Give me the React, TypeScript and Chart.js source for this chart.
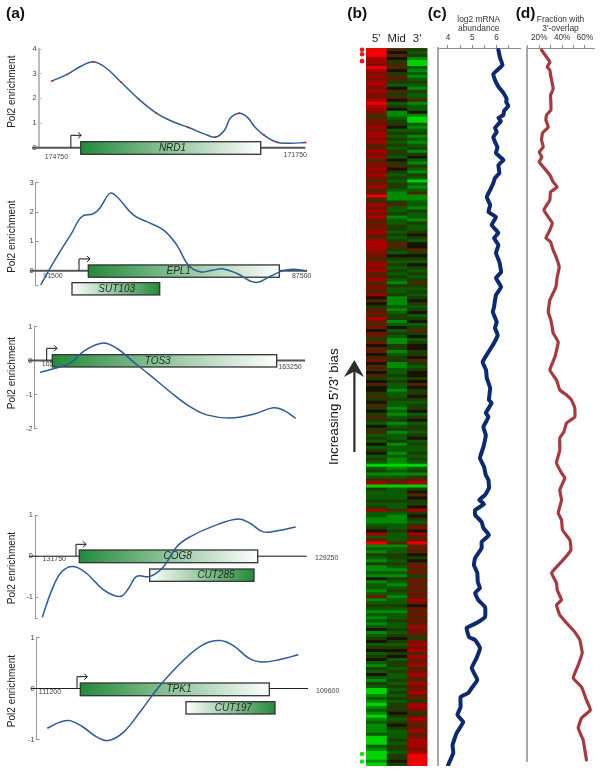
import React, { useEffect, useRef } from "react";
import { Chart, registerables } from "chart.js";

Chart.register(...registerables);
Chart.defaults.font.family = "'Liberation Sans', Arial, sans-serif";

// ---------- (a) Pol2 tracks: position along track, enrichment ----------
const nrd1Pos = [52, 68, 82, 94, 107, 122, 140, 158, 173, 190, 207, 218, 227, 233, 242, 250, 258, 267, 280, 293, 309];
const nrd1Val = [2.7, 2.98, 3.31, 3.48, 3.23, 2.66, 1.97, 1.4, 1.08, 0.83, 0.55, 0.43, 0.71, 1.2, 1.4, 1.24, 0.83, 0.51, 0.22, 0.18, 0.21];
const nrd1MarkPos = [52, 68, 94, 122, 158, 190, 218, 242, 267, 280, 309];
const nrd1MarkVal = [2.7, 2.98, 3.48, 2.66, 1.4, 0.83, 0.43, 1.4, 0.51, 0.22, 0.21];

const epl1Pos = [40.7, 50, 60, 71.7, 81.7, 93.3, 100, 110, 116.7, 133.3, 146.7, 163.3, 176.7, 188.3, 200, 213, 223, 236.7, 255, 270, 283, 293, 306.7];
const epl1Val = [-0.49, 0.08, 0.65, 1.28, 1.84, 1.94, 2.14, 2.64, 2.53, 1.9, 1.67, 1.39, 0.88, 0.19, -0.04, 0.02, 0.06, -0.09, -0.4, -0.2, 0, 0.05, -0.02];

const tos3Pos = [40, 55, 70, 83.3, 101.7, 116.7, 133.3, 150, 170, 190, 206.7, 230, 253.3, 273.3, 283.3, 295.7];
const tos3Val = [-0.35, -0.23, -0.08, 0.26, 0.51, 0.36, -0.04, -0.43, -0.92, -1.36, -1.6, -1.69, -1.58, -1.39, -1.46, -1.7];

const cog8Pos = [42.3, 51.7, 61.7, 73.3, 86.7, 103.3, 120, 128.3, 136.7, 150, 163.3, 176.7, 190, 213.3, 238.3, 250, 263.3, 280, 295.7];
const cog8Val = [-1.48, -0.83, -0.38, -0.25, -0.42, -0.81, -0.98, -0.79, -0.49, -0.49, -0.26, 0.23, 0.47, 0.73, 0.9, 0.8, 0.59, 0.63, 0.71];

const tpk1Pos = [47.3, 60, 70, 83.3, 96.7, 108.3, 123.3, 140, 160, 183.3, 203.3, 220, 233.3, 250, 263.3, 280, 298.3];
const tpk1Val = [-0.78, -0.66, -0.63, -0.76, -0.95, -1.02, -0.86, -0.46, 0.06, 0.55, 0.86, 0.94, 0.84, 0.58, 0.52, 0.57, 0.66];

// ---------- (b) heat map, one value per gene row (+ red, - green) ----------
const columnLabels = ["5'", "Mid", "3'"];
const fivePrime = [
  4,4,4,3,3,2,4,3,2,3, 2,3,3,2,3,2,2,3,4,3, 3,2,1,1,2,2,3,2,3,3, 2,3,1,2,3,2,3,1,2,2,
  3,2,3,2,1,2,3,1,2,4, 1,1,3,2,3,2,3,2,1,2, 2,3,2,1,3,3,3,3,2,2, 1,2,3,2,3,1,2,3,1,2,
  2,1,3,0,1,0,-1,1,2,1, 3,2,1,2,0,2,1,-1,2,0, 1,2,0,1,2,0,1,1,0,1, -1,0,1,0,0,-1,1,-1,0,1,
  -1,0,-1,1,-1,-2,0,-1,1,-2, -1,-2,0,-2,-1,0,-2,-1,-2,-4, -2,-1,-3,-2,1,3,-4,-1,-2,-2, -2,-1,-2,-1,3,-2,-2,-3,-3,-2,
  -1,0,3,-2,2,4,-3,-2,-3,-1, -2,-3,-1,-3,-3,-2,-3,0,-3,-2, -2,-3,-2,2,-3,-2,-1,-2,-3,-2, -3,-2,-3,-2,0,-3,-2,-1,0,-2,
  -1,0,-2,-1,0,-2,-3,-1,-2,0, -2,-3,-1,-2,-4,-4,-3,-2,-3,-4, -3,-2,-3,-4,-3,-2,-3,-3,-3,-2, -4,-4,-4,-2,-3,-4,-4,-4,-3,-4,
];
const midBody = [
  1,0,1,0,-1,1,1,0,-1,1, 1,-1,-2,0,1,-1,1,0,-2,-1, 0,-3,-3,-2,-1,-1,0,-2,-1,-2, -1,-2,-1,-2,-1,-1,-2,0,-1,1,
  0,-1,-2,-1,-2,-1,-1,-2,-3,-3, -3,-1,1,-2,-2,-1,-3,-2,-2,-1, -1,-2,-1,-2,-1,1,1,-1,-2,0, -1,-2,-1,-2,-1,-2,-1,-2,-3,-1,
  -2,-2,-1,-3,-3,-3,-2,-3,-2,-1, -1,-3,-2,0,-2,-1,-2,-3,-3,-1, -1,-3,-2,-1,-1,-3,-3,-2,-2,-1, -2,-1,-2,-2,-3,-2,-2,-1,-2,-2,
  -3,-2,-3,-2,-1,-3,-2,-1,-3,-2, -2,-1,-3,-2,-2,-3,-2,-3,-3,-4, -3,-2,-3,-2,1,2,-4,-2,-2,-2, -2,-1,-2,-2,1,-2,-3,-3,-3,-2,
  -2,-1,-2,-2,-2,1,-3,-2,-2,-1, -1,-2,-1,-2,-3,-2,-3,-1,-2,-3, -2,-1,-2,-3,-2,-2,-1,-2,-3,-2, -2,-1,-2,-2,-1,-2,-1,0,-1,-2,
  -1,0,-1,0,-2,-1,-1,-2,-1,-2, -2,-1,-2,-1,-2,-1,-2,-1,-2,-1, -1,-1,0,-1,-2,-1,0,-1,-2,-2, -2,-1,-2,-1,-1,-2,-1,-1,0,-1,
];
const threePrime = [
  -1,-2,-1,-3,-4,-4,-2,-3,-2,-3, -2,-1,-2,-3,-1,-2,-2,1,-3,-2, -2,0,-3,-4,-4,-2,-3,-2,-1,-3, -2,-3,-2,-1,-3,-1,0,-2,-3,-1,
  -2,-3,-1,-2,-4,-2,-3,-2,1,-3, -3,-2,-2,-3,-1,-2,-2,-3,-1,-2, -2,-1,0,-1,-2,0,0,1,-1,0, -1,-2,0,-1,-2,-1,-2,-1,1,-1,
  -2,-1,-2,-1,0,-1,-2,-1,0,-2, -1,0,-2,-1,1,-1,0,-2,-1,0, 0,-1,-1,0,1,-1,-2,-1,0,0, -1,0,1,0,-1,-1,0,-1,-2,-1,
  -1,0,-2,-1,0,-2,-1,-1,-2,-1, 0,-2,-1,-2,-2,-1,-2,-1,-2,-4, -2,-1,-3,-1,2,3,-4,-1,0,1, 0,-1,-1,0,3,-1,0,-1,-2,1,
  2,0,3,1,2,4,1,2,1,0, -1,0,1,2,1,2,-1,1,2,1, 2,1,2,1,3,2,0,2,1,2, 1,2,1,3,2,2,1,-1,2,3,
  2,3,1,3,2,2,3,1,2,3, 2,1,3,2,2,3,2,1,-1,3, 3,2,-1,2,3,2,1,2,3,1, 2,3,3,3,2,3,4,4,4,4,
];
const redMarkedRows = [0, 1.5, 3.8];
const greenMarkedRows = [235.5, 238];

// ---------- (c) log2 mRNA abundance ----------
const abundanceRank = [
  2,10,17,22,26,32,37,40,45,51,54,58,63,67,70,73,80,84,89,94,99,105,109,112,117,125,130,135,142,149,
  157,164,169,177,185,190,197,205,214,224,230,239,247,259,264,274,280,287,295,304,314,322,330,340,352,
  355,365,369,379,387,399,410,419,427,432,440,447,452,456,462,467,474,480,487,494,500,510,517,525,534,540,
  545,552,559,569,575,580,589,592,600,610,620,632,640,645,649,659,667,674,685,697,705,717,
];
const abundanceLog2 = [
  6.08,6.15,6.25,6.04,5.87,5.94,6.04,6.12,6.29,6.42,6.4,6.49,6.31,6.29,6.08,6.18,5.94,6.01,5.87,5.94,6.04,5.98,6.15,6.29,6.08,6.12,5.94,5.87,5.74,5.6,
  5.74,5.67,5.98,5.8,6.08,5.9,6.08,5.98,6.12,6.19,5.98,6.19,5.98,5.9,5.85,6.01,5.94,6.05,5.9,5.67,5.43,5.57,5.6,5.74,5.69,
  5.8,5.56,5.67,5.46,5.56,5.46,5.32,5.49,5.56,5.67,5.69,5.53,5.29,5.49,5.12,5.12,5.39,5.46,5.69,5.39,5.39,5.12,5.07,5.21,5.23,5.32,
  5.12,5.25,5.53,5.53,5.18,4.77,4.87,5.12,5.32,5.18,4.98,5.21,4.98,4.84,4.52,4.52,4.39,4.63,4.36,4.19,4.22,4.01,
];
const abundanceTicks = [4, 4.5, 5, 5.5, 6, 6.5];

// ---------- (d) fraction with 3'-overlap ----------
const overlapRank = [
  2,9,14,19,22,27,32,41,47,55,62,67,72,79,85,92,99,104,109,114,119,127,134,139,144,152,
  162,169,175,182,190,194,202,210,219,229,239,252,264,272,285,294,309,322,332,342,347,352,
  360,369,375,384,390,402,415,425,430,442,452,465,472,482,492,502,510,519,525,535,542,
  552,557,567,575,584,592,605,617,630,639,652,662,670,680,692,702,712,
];
const overlapPercent = [
  22,26.4,29.3,27,29.3,29.9,30.8,32.2,29.9,30.2,30.2,26.4,25.8,27.9,22.9,22,23.5,20,22.3,20,23.5,29.3,32.2,35.7,29.9,29.3,
  24.1,27.9,31.4,29.3,25.8,29.9,32.2,35.1,37.5,35.7,34.6,29.3,27.9,30.2,32.2,36.6,33.7,29.3,35.1,38,43.9,48.2,
  51.1,51.1,43.9,41.5,38,38,35.1,39.5,42.4,38,39.5,36.6,39.5,40.4,46.8,47.7,42.4,35.1,30.8,35.1,35.7,
  39.5,35.1,38,43.9,51.1,55.5,57.6,54.1,49.7,57,61.3,64.8,57,54.1,58.4,59.9,61.3,
];
const overlapTicks = [10, 20, 30, 40, 50, 60];

// ---------- track layout ----------
const tracks = [
  { key: "NRD1", top: 0, height: 170, axisX: 38.7, axisTop: 49, axisBottom: 147.7, min: 0, max: 4, tickVals: [0, 1, 2, 3, 4],
    axisColor: "#bdbdbd", axisWidth: 2, lineColor: "#555", lineWidth: 2, baseFrom: 32, baseTo: 309,
    pos: nrd1Pos, val: nrd1Val, markPos: nrd1MarkPos, markVal: nrd1MarkVal, titleY: 91.7,
    genes: [{ name: "NRD1", start: 81.3, end: 263.7, dyTop: -6, dyBottom: 6.6, labelX: 174.3, flip: false }],
    tss: { x: 71.3, dy: -12.4, end: 81.7 },
    coords: [{ text: "174750", x: 56.7, dy: 9.5 }, { text: "171750", x: 298.7, dy: 7 }],
    extraText: { text: "(a)", x: 6, y: 13.5 } },
  { key: "EPL1", top: 170, height: 135, axisX: 35.7, axisTop: 182.7, axisBottom: 285.3, min: -0.5, max: 3, tickVals: [-0.5, 0, 1, 2, 3],
    axisColor: "#999", axisWidth: 1, lineColor: "#555", lineWidth: 2, baseFrom: 30, baseTo: 307,
    pos: epl1Pos, val: epl1Val, titleY: 236.7,
    genes: [
      { name: "EPL1", start: 88.3, end: 279.3, dyTop: -5.7, dyBottom: 6.6, labelX: 178.7, flip: false },
      { name: "SUT103", start: 72, end: 159.7, dyTop: 12, dyBottom: 24.3, labelX: 116.7, flip: true },
    ],
    tss: { x: 79, dy: -11.7, end: 90 },
    coords: [{ text: "91500", x: 53, dy: 5.5 }, { text: "87500", x: 301.7, dy: 5.5 }] },
  { key: "TOS3", top: 310, height: 130, axisX: 34.3, axisTop: 326.5, axisBottom: 428.5, min: -2, max: 1, tickVals: [-2, -1, 0, 1],
    axisColor: "#999", axisWidth: 1, lineColor: "#555", lineWidth: 2, baseFrom: 28, baseTo: 305,
    pos: tos3Pos, val: tos3Val, titleY: 373,
    genes: [{ name: "TOS3", start: 52.3, end: 276.7, dyTop: -5.8, dyBottom: 6.5, labelX: 157.7, flip: false }],
    tss: { x: 46.7, dy: -12.2, end: 57 },
    coords: [{ text: "165250", x: 53.5, dy: 4 }, { text: "163250", x: 290, dy: 6.2 }] },
  { key: "COG8", top: 500, height: 125, axisX: 35, axisTop: 515, axisBottom: 618, min: -1.5, max: 1, tickVals: [-1.5, -1, 0, 1],
    axisColor: "#999", axisWidth: 1, lineColor: "#111", lineWidth: 1, baseFrom: 29, baseTo: 306.7,
    pos: cog8Pos, val: cog8Val, titleY: 568,
    genes: [
      { name: "COG8", start: 79.3, end: 257.7, dyTop: -6.2, dyBottom: 6.5, labelX: 177.7, flip: false },
      { name: "CUT285", start: 149.7, end: 254, dyTop: 12.8, dyBottom: 25.1, labelX: 216, flip: true },
    ],
    tss: { x: 76, dy: -11.9, end: 86 },
    coords: [{ text: "131750", x: 54.3, dy: 3.2 }, { text: "129250", x: 326.7, dy: 1.8 }] },
  { key: "TPK1", top: 625, height: 125, axisX: 36.7, axisTop: 637.5, axisBottom: 739.5, min: -1, max: 1, tickVals: [-1, 0, 1],
    axisColor: "#999", axisWidth: 1, lineColor: "#222", lineWidth: 1, baseFrom: 30.7, baseTo: 308,
    pos: tpk1Pos, val: tpk1Val, titleY: 691,
    genes: [
      { name: "TPK1", start: 80.3, end: 269.3, dyTop: -5.5, dyBottom: 7.2, labelX: 179, flip: false },
      { name: "CUT197", start: 186, end: 275, dyTop: 13.2, dyBottom: 25.5, labelX: 233.3, flip: true },
    ],
    tss: { x: 77, dy: -11.8, end: 87.3 },
    coords: [{ text: "111200", x: 50, dy: 3.8 }, { text: "109600", x: 327.7, dy: 2.5 }] },
];

const trackCurve = "#2c5b98";
const heatPalette = {
  "-4": "#00d400", "-3": "#028a00", "-2": "#0a5c00", "-1": "#1c3c00", "0": "#1a1200",
  "1": "#4c2600", "2": "#741200", "3": "#a80000", "4": "#f00000",
} as Record<string, string>;
const heatColors = (vals: number[]) => vals.map((v) => heatPalette[String(v)]);

// ---------- plugins ----------
const label = (ctx: any, text: string, x: number, y: number, font: string, color: string, align: any = "center") => {
  ctx.save();
  ctx.font = font;
  ctx.fillStyle = color;
  ctx.textAlign = align;
  ctx.textBaseline = "middle";
  ctx.fillText(text, x, y);
  ctx.restore();
};

const trackPlugin = (t: any) => ({
  id: "track" + t.key,
  afterDatasetDraw(chart: any, args: any) {
    if (chart.data.datasets[args.index].role !== "baseline") return;
    const { ctx, scales } = chart;
    const xs = scales.x;
    const zero = scales.y.getPixelForValue(0);
    for (const c of t.coords) {
      label(ctx, c.text, xs.getPixelForValue(c.x), zero + c.dy, "7px 'Liberation Sans'", "#444");
    }
    // TSS arrow
    const tx = xs.getPixelForValue(t.tss.x);
    const te = xs.getPixelForValue(t.tss.end);
    const ty = zero + t.tss.dy;
    ctx.save();
    ctx.strokeStyle = "#111";
    ctx.lineWidth = 1;
    ctx.beginPath();
    ctx.moveTo(tx, zero);
    ctx.lineTo(tx, ty);
    ctx.lineTo(te, ty);
    ctx.moveTo(te - 3, ty - 3);
    ctx.lineTo(te, ty);
    ctx.lineTo(te - 3, ty + 3);
    ctx.stroke();
    ctx.restore();
    for (const g of t.genes) {
      const x1 = xs.getPixelForValue(g.start);
      const x2 = xs.getPixelForValue(g.end);
      const grad = ctx.createLinearGradient(x1, 0, x2, 0);
      grad.addColorStop(g.flip ? 1 : 0, "#238a3a");
      grad.addColorStop(g.flip ? 0 : 1, "#ffffff");
      ctx.save();
      ctx.fillStyle = grad;
      ctx.strokeStyle = "#333";
      ctx.lineWidth = 1.3;
      ctx.fillRect(x1, zero + g.dyTop, x2 - x1, g.dyBottom - g.dyTop);
      ctx.strokeRect(x1, zero + g.dyTop, x2 - x1, g.dyBottom - g.dyTop);
      ctx.restore();
      label(ctx, g.name, xs.getPixelForValue(g.labelX), zero + (g.dyTop + g.dyBottom) / 2, "italic 10px 'Liberation Sans'", "#1c2a20");
    }
  },
  afterDraw(chart: any) {
    const { ctx } = chart;
    ctx.save();
    ctx.translate(12.7, t.titleY - t.top);
    ctx.rotate(-Math.PI / 2);
    label(ctx, "Pol2 enrichment", 0, 0, "10px 'Liberation Sans'", "#222");
    ctx.restore();
    if (t.extraText) {
      label(ctx, t.extraText.text, t.extraText.x, t.extraText.y, "bold 15.5px 'Liberation Sans'", "#111", "left");
    }
  },
});

const fixedAxis = (size: number, vertical: boolean) => (s: any) => {
  if (vertical) s.width = size;
  else s.height = size;
  s.paddingTop = 0;
  s.paddingBottom = 0;
  s.paddingLeft = 0;
  s.paddingRight = 0;
};

const trackConfig = (t: any) => {
  const datasets: any[] = [];
  if (t.markPos) {
    datasets.push({
      data: t.markPos.map((x: number, i: number) => ({ x, y: t.markVal[i] })),
      showLine: false, pointRadius: 1, pointBackgroundColor: "#f01818", pointBorderWidth: 0, clip: false,
    });
  }
  datasets.push({
    data: t.pos.map((x: number, i: number) => ({ x, y: t.val[i] })),
    borderColor: trackCurve, borderWidth: 1.5, pointRadius: 0, tension: 0.4, clip: false,
  });
  datasets.push({
    role: "baseline",
    data: [{ x: t.baseFrom, y: 0 }, { x: t.baseTo, y: 0 }],
    borderColor: t.lineColor, borderWidth: t.lineWidth, pointRadius: 0, clip: false,
  });
  return {
    type: "line",
    data: { datasets },
    plugins: [trackPlugin(t)],
    options: {
      animation: false, responsive: false, devicePixelRatio: 1,
      layout: { padding: { top: t.axisTop - t.top, bottom: t.top + t.height - t.axisBottom, left: 0, right: 0 } },
      plugins: { legend: { display: false }, tooltip: { enabled: false }, title: { display: false } },
      scales: {
        x: { type: "linear", min: t.axisX, max: 340, display: false },
        y: {
          type: "linear", min: t.min, max: t.max,
          afterBuildTicks: (s: any) => { s.ticks = t.tickVals.map((value: number) => ({ value })); },
          afterFit: fixedAxis(t.axisX, true),
          border: { display: true, color: t.axisColor, width: t.axisWidth },
          grid: { drawOnChartArea: false, drawTicks: true, tickLength: -3, color: t.axisColor, lineWidth: 1 },
          ticks: {
            autoSkip: false, padding: 5, color: "#444", font: { size: 7.5 },
            callback: (v: number) => (Number.isInteger(v) ? String(v) : ""),
          },
        },
      },
    },
  };
};

const heatPlugin = {
  id: "heatExtras",
  beforeDatasetsDraw(chart: any) {
    const { ctx, chartArea: a } = chart;
    ctx.save();
    ctx.fillStyle = "#140f00";
    ctx.fillRect(a.left, a.top, a.right - a.left, a.bottom - a.top);
    ctx.restore();
  },
  afterDraw(chart: any) {
    const { ctx, scales } = chart;
    const dot = (row: number, color: string) => {
      ctx.save();
      ctx.fillStyle = color;
      ctx.beginPath();
      ctx.arc(scales.x.getPixelForValue(-0.195), scales.y.getPixelForValue(row), 2.3, 0, Math.PI * 2);
      ctx.fill();
      ctx.restore();
    };
    redMarkedRows.forEach((r) => dot(r, "#f01414"));
    greenMarkedRows.forEach((r) => dot(r, "#14e614"));
    label(ctx, "(b)", 27.3, 13.5, "bold 15.5px 'Liberation Sans'", "#111", "left");
    // bias arrow
    ctx.save();
    ctx.fillStyle = "#2d2d2d";
    ctx.fillRect(33.3, 370, 2.2, 82);
    ctx.beginPath();
    ctx.moveTo(34.4, 360);
    ctx.lineTo(44, 377);
    ctx.lineTo(34.4, 371.5);
    ctx.lineTo(24, 377);
    ctx.closePath();
    ctx.fill();
    ctx.translate(14.3, 406.7);
    ctx.rotate(-Math.PI / 2);
    label(ctx, "Increasing 5'/3' bias", 0, 0, "13.3px 'Liberation Sans'", "#111");
    ctx.restore();
  },
};

const heatConfig = () => ({
  type: "bar",
  data: {
    labels: fivePrime.map((_, i) => i),
    datasets: [fivePrime, midBody, threePrime].map((vals) => ({
      data: vals.map(() => 1),
      backgroundColor: heatColors(vals),
      borderWidth: 0,
      barPercentage: 1,
      categoryPercentage: 1,
    })),
  },
  plugins: [heatPlugin],
  options: {
    indexAxis: "y",
    animation: false, responsive: false, devicePixelRatio: 1,
    layout: { padding: { left: 46, right: 0.7, top: 0, bottom: 0 } },
    plugins: { legend: { display: false }, tooltip: { enabled: false } },
    scales: {
      x: {
        type: "linear", position: "top", stacked: true, min: 0, max: 3,
        afterBuildTicks: (s: any) => { s.ticks = [0.5, 1.5, 2.5].map((value) => ({ value })); },
        afterFit: fixedAxis(48.3, false),
        border: { display: false },
        grid: { display: false, drawTicks: false },
        ticks: {
          autoSkip: false, maxRotation: 0, padding: 3, color: "#222", font: { size: 11.3 },
          callback: (v: number) => columnLabels[Math.floor(v)],
        },
      },
      y: { type: "category", stacked: true, display: false },
    },
  },
});

const profileConfig = (o: any) => ({
  type: "line",
  data: {
    datasets: [{
      data: o.rank.map((y: number, i: number) => ({ x: o.val[i], y })),
      borderColor: o.color, borderWidth: o.weight, pointRadius: 0, tension: 0.1, clip: false,
      borderJoinStyle: "round", borderCapStyle: "round",
    }],
  },
  plugins: [{
    id: "profileLabel" + o.tag,
    afterDraw(chart: any) {
      label(chart.ctx, o.tag, o.tagX, 13.5, "bold 15.5px 'Liberation Sans'", "#111", "left");
    },
  }],
  options: {
    animation: false, responsive: false, devicePixelRatio: 1,
    layout: { padding: { right: o.padRight, top: 0, bottom: 0, left: 0 } },
    plugins: { legend: { display: false }, tooltip: { enabled: false } },
    scales: {
      x: {
        type: "linear", position: "top", min: o.min, max: o.max,
        afterBuildTicks: (s: any) => { s.ticks = o.ticks.map((value: number) => ({ value })); },
        afterFit: fixedAxis(48, false),
        title: { display: true, text: o.title, color: "#333", font: { size: 8.4, lineHeight: 1.12 }, padding: { top: 15, bottom: 0 } },
        border: { display: true, color: "#8c8c8c", width: 1 },
        grid: { drawOnChartArea: false, drawTicks: true, tickLength: 3, color: "#8c8c8c" },
        ticks: { autoSkip: false, maxRotation: 0, padding: 2, color: "#333", font: { size: 8.2 }, callback: o.tickLabel },
      },
      y: {
        type: "linear", reverse: true, min: 0, max: o.rankMax,
        afterFit: fixedAxis(o.axisWidth, true),
        border: { display: true, color: "#a8a8a8", width: 2 },
        grid: { drawOnChartArea: false, drawTicks: false },
        ticks: { display: false },
      },
    },
  },
});

// ---------- components ----------
function Panel({ left, top, width, height, make }: any) {
  const ref = useRef<HTMLCanvasElement | null>(null);
  useEffect(() => {
    const chart = new Chart(ref.current as any, make());
    return () => chart.destroy();
  }, []);
  return (
    <canvas
      ref={ref}
      width={width}
      height={height}
      style={{ position: "absolute", left, top, width, height, display: "block" }}
    />
  );
}

export default function App() {
  return (
    <div style={{ position: "absolute", left: 0, top: 0, width: 600, height: 772, overflow: "hidden", background: "#fff" }}>
      {tracks.map((t) => (
        <Panel key={t.key} left={0} top={t.top} width={340} height={t.height} make={() => trackConfig(t)} />
      ))}
      <Panel left={320} top={0} width={108} height={766} make={heatConfig} />
      <Panel
        left={427}
        top={0}
        width={98}
        height={766}
        make={() =>
          profileConfig({
            rank: abundanceRank, val: abundanceLog2, color: "#0b2a72", weight: 4, min: 3.57, max: 6.97,
            ticks: abundanceTicks, title: ["log2 mRNA", "abundance"], tag: "(c)", tagX: 0.7, padRight: 5,
            rankMax: 718, axisWidth: 10.5,
            tickLabel: (v: number) => (Number.isInteger(v) ? String(v) : ""),
          })
        }
      />
      <Panel
        left={515}
        top={0}
        width={85}
        height={762}
        make={() =>
          profileConfig({
            rank: overlapRank, val: overlapPercent, color: "#a63a40", weight: 3.2, min: 9.3, max: 67.9,
            ticks: overlapTicks, title: ["Fraction with", "3'-overlap"], tag: "(d)", tagX: 0.7, padRight: 6,
            rankMax: 714, axisWidth: 12,
            tickLabel: (v: number) => (v === 20 || v === 40 || v === 60 ? v + "%" : ""),
          })
        }
      />
    </div>
  );
}
